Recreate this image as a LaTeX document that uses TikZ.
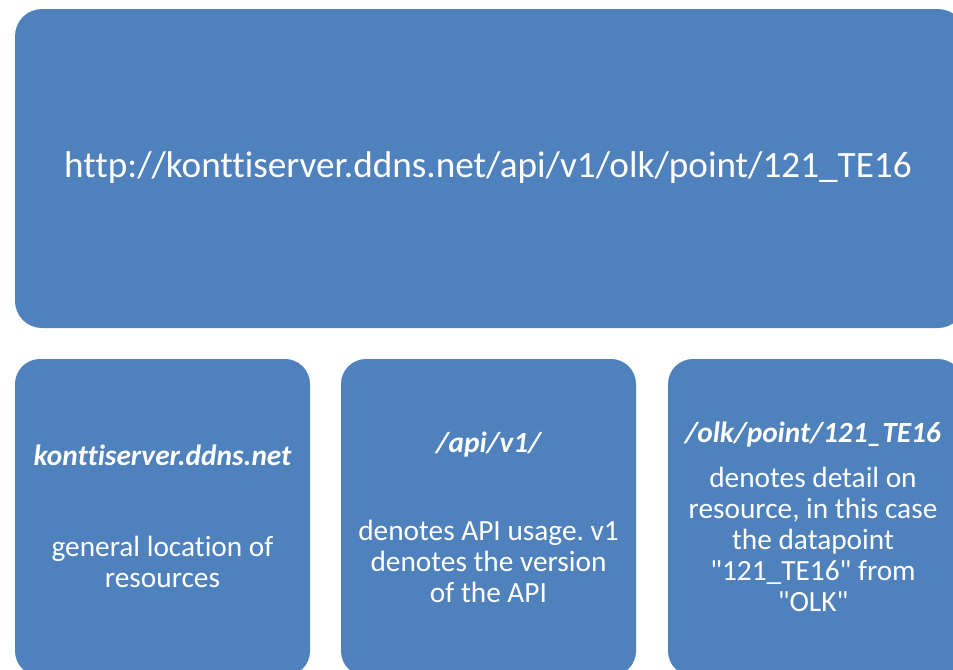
\documentclass[tikz,border=0pt]{standalone}
\usepackage{fontspec}
% a plain family: no TeX quote mapping, no common ligatures
\newfontfamily\calfont{Carlito}[Ligatures=NoCommon]
\definecolor{boxblue}{HTML}{4F81BD}
\frenchspacing
\begin{document}
\begin{tikzpicture}[x=0.75pt,y=-0.75pt,
  bigpanel/.style={fill=boxblue, rounded corners=20.25pt},
  smallpanel/.style={fill=boxblue, rounded corners=18.75pt},
  urltext/.style={text=white, inner sep=0pt, anchor=base, font=\calfont\fontsize{27.9}{33}\selectfont},
  headtext/.style={text=white, inner sep=0pt, anchor=base, font=\calfont\fontsize{22}{23.25}\selectfont\bfseries\itshape},
  % multi-line nodes are placed at the baseline of their last line
  bodytext/.style={text=white, inner sep=0pt, anchor=base, align=center, font=\calfont\fontsize{22}{23.25}\selectfont\frenchspacing}
]
\useasboundingbox (0,0) rectangle (953,669);
\clip (0,0) rectangle (953,669);

% panels
\fill[bigpanel] (15,9) rectangle (965,328);
\fill[smallpanel] (15,359) rectangle (310,676);
\fill[smallpanel] (341,359) rectangle (636,676);
\fill[smallpanel] (668,359) rectangle (963,676);

% full address
\node[urltext] (url) at (488,177) {http://konttiserver.ddns.net/api/v1/olk/point/121\_TE16};

% host part
\node[headtext] (hosthead) at (162.5,465) {konttiserver.ddns.net};
\node[bodytext] (hostbody) at (162.5,587) {general location of\\resources};

% api part
\node[headtext] (apihead) at (488.5,452) {/api/v1/};
\node[bodytext] (apibody) at (488.5,602) {denotes API usage. v1\\denotes the version\\of the API};

% resource part
\node[headtext] (reshead) at (813,442) {/olk/point/121\_TE16};
\node[bodytext] (resbody) at (813,611) {denotes detail on\\resource, in this case\\the datapoint\\"121\_TE16" from\\"OLK"};
\end{tikzpicture}
\end{document}
